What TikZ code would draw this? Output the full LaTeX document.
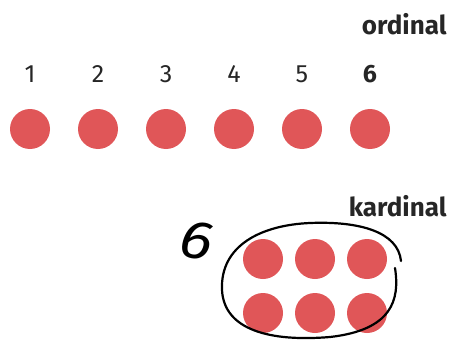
\documentclass[tikz,border=0pt]{standalone}
\usepackage{fontspec}
\setmainfont{Fira Sans}
\usetikzlibrary{calc}

\definecolor{dotred}{RGB}{224,86,88}
\tikzset{
  dot/.style={circle,fill=dotred,minimum size=40pt,inner sep=0pt},
  numlabel/.style={anchor=center,font=\fontsize{25}{25}\selectfont,text=black!85},
  headlabel/.style={anchor=east,font=\fontsize{26}{26}\selectfont\bfseries,text=black!85}
}

\begin{document}
\begin{tikzpicture}[x=1pt,y=-1pt]
    \useasboundingbox (0,0) rectangle (450,340);
    \node[headlabel] (ordinal) at (450,24) {ordinal};
    \foreach \i in {1,...,5}
      \node[numlabel] (num\i) at ({30+68*(\i-1)},74) {\i};
    \node[numlabel,font=\fontsize{25}{25}\selectfont\bfseries] (num6) at (370,74) {6};
    \foreach \i in {1,...,6}
      \node[dot] (row\i) at ({30+68*(\i-1)},129) {};
    \node[headlabel] (kardinal) at (450,206) {kardinal};
    \foreach \i in {1,2,3}
      \foreach \j in {1,2}
        \node[dot] (grid\i\j) at ({263+52*(\i-1)},{259+54*(\j-1)}) {};
    \node[font=\fontsize{54}{54}\selectfont\itshape\addfontfeature{FakeStretch=1.15},rotate=-10] (six) at (197,241) {6};
    \draw[line width=2.2pt,line cap=round]
      (395,268) .. controls (400,300) and (392,330) .. (330,337)
      .. controls (270,342) and (224,330) .. (222,290)
      .. controls (220,245) and (262,225) .. (310,223)
      .. controls (360,221) and (398,232) .. (401,261);
\end{tikzpicture}
\end{document}
